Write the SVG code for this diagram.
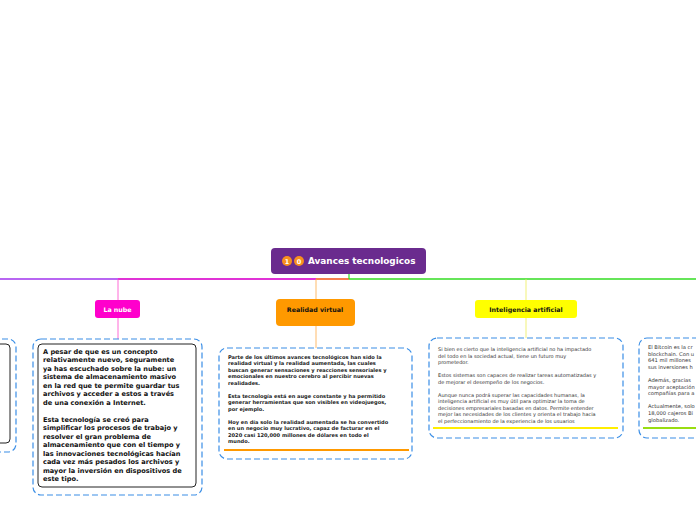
<svg xmlns="http://www.w3.org/2000/svg" width="696" height="520" viewBox="0 0 696 520">
<style>
.dash{fill:#fff;stroke:#3a8ee6;stroke-width:1.2;stroke-dasharray:6 3}
.inner{fill:#fff;stroke:#222;stroke-width:1}
.t{font-family:"DejaVu Sans",Verdana,sans-serif}
.b{font-weight:bold}
.nube{font-size:6.6px;fill:#111}
.rv{font-size:5.1px;fill:#222}
.ia{font-size:5px;fill:#333}
.bt{font-size:5.2px;fill:#333}
.lbl{font-size:6.3px;font-weight:bold}
</style>
<rect width="696" height="520" fill="#fff"/>
<g id="connectors" fill="none">
  <line x1="0" y1="279" x2="349" y2="279" stroke="#a033ee" stroke-width="1.6"/>
  <line x1="118" y1="279" x2="349" y2="279" stroke="#ee22cc" stroke-width="1.6"/>
  <line x1="316" y1="279" x2="349" y2="279" stroke="#ff9a22" stroke-width="1.6"/>
  <line x1="349" y1="279" x2="696" y2="279" stroke="#33dd22" stroke-width="1.6"/>
  <line x1="349" y1="274" x2="349" y2="279" stroke="#33dd22" stroke-width="1.2"/>
  <line x1="118" y1="279" x2="118" y2="300" stroke="#ff44cc" stroke-width="0.8"/>
  <line x1="118" y1="318" x2="118" y2="339" stroke="#ff44cc" stroke-width="0.8"/>
  <line x1="316" y1="279" x2="316" y2="299" stroke="#ffaa44" stroke-width="0.8"/>
  <line x1="316" y1="326" x2="316" y2="348" stroke="#ffaa44" stroke-width="0.8"/>
  <line x1="526" y1="279" x2="526" y2="300" stroke="#eeee55" stroke-width="0.8"/>
  <line x1="526" y1="318" x2="526" y2="338" stroke="#eeee55" stroke-width="0.8"/>
</g>
<g id="root">
  <rect x="271" y="248" width="155" height="26" rx="4" fill="#6a2b8e"/>
  <circle cx="287" cy="261" r="5" fill="#f7901e"/>
  <circle cx="299" cy="261" r="5" fill="#f7901e"/>
  <text class="t b" x="287" y="263.5" font-size="6.5" fill="#fff" text-anchor="middle">1</text>
  <text class="t b" x="299" y="263.5" font-size="6.5" fill="#fff" text-anchor="middle">0</text>
  <text class="t b" x="308" y="264.2" font-size="8.9" fill="#fff">Avances tecnologicos</text>
</g>
<g id="left-partial">
  <rect class="dash" x="-60" y="339" width="76" height="113" rx="8"/>
  <rect class="inner" x="-60" y="344" width="70" height="99" rx="4"/>
</g>
<g id="la-nube">
  <rect x="95" y="300" width="45" height="18" rx="3" fill="#ff00cc"/>
  <text class="t lbl" x="117.5" y="311.5" fill="#fff" text-anchor="middle">La nube</text>
</g>
<g id="la-nube-detalle">
  <rect class="dash" x="33" y="339" width="169" height="156" rx="8"/>
  <rect class="inner" x="38" y="344" width="158" height="143" rx="4"/>
  <text class="t b nube" x="43" y="354">
    <tspan x="43">A pesar de que es un concepto</tspan>
    <tspan x="43" dy="8.47">relativamente nuevo, seguramente</tspan>
    <tspan x="43" dy="8.47">ya has escuchado sobre la nube: un</tspan>
    <tspan x="43" dy="8.47">sistema de almacenamiento masivo</tspan>
    <tspan x="43" dy="8.47">en la red que te permite guardar tus</tspan>
    <tspan x="43" dy="8.47">archivos y acceder a estos a través</tspan>
    <tspan x="43" dy="8.47">de una conexión a Internet.</tspan>
    <tspan x="43" dy="16.94">Esta tecnología se creó para</tspan>
    <tspan x="43" dy="8.47">simplificar los procesos de trabajo y</tspan>
    <tspan x="43" dy="8.47">resolver el gran problema de</tspan>
    <tspan x="43" dy="8.47">almacenamiento que con el tiempo y</tspan>
    <tspan x="43" dy="8.47">las innovaciones tecnológicas hacían</tspan>
    <tspan x="43" dy="8.47">cada vez más pesados los archivos y</tspan>
    <tspan x="43" dy="8.47">mayor la inversión en dispositivos de</tspan>
    <tspan x="43" dy="8.47">este tipo.</tspan>
  </text>
</g>
<g id="realidad-virtual">
  <rect x="276" y="299" width="79" height="27" rx="4" fill="#ff9900"/>
  <text class="t lbl" x="315" y="311.5" fill="#111" text-anchor="middle">Realidad virtual</text>
</g>
<g id="realidad-virtual-detalle">
  <rect class="dash" x="219" y="348" width="193" height="111" rx="8"/>
  <text class="t b rv" x="228" y="359">
    <tspan x="228">Parte de los últimos avances tecnológicos han sido la</tspan>
    <tspan x="228" dy="6.46">realidad virtual y la realidad aumentada, las cuales</tspan>
    <tspan x="228" dy="6.46">buscan generar sensaciones y reacciones sensoriales y</tspan>
    <tspan x="228" dy="6.46">emocionales en nuestro cerebro al percibir nuevas</tspan>
    <tspan x="228" dy="6.46">realidades.</tspan>
    <tspan x="228" dy="12.92">Esta tecnología está en auge constante y ha permitido</tspan>
    <tspan x="228" dy="6.46">generar herramientas que son visibles en videojuegos,</tspan>
    <tspan x="228" dy="6.46">por ejemplo.</tspan>
    <tspan x="228" dy="12.92">Hoy en día solo la realidad aumentada se ha convertido</tspan>
    <tspan x="228" dy="6.46">en un negocio muy lucrativo, capaz de facturar en el</tspan>
    <tspan x="228" dy="6.46">2020 casi 120,000 millones de dólares en todo el</tspan>
    <tspan x="228" dy="6.46">mundo.</tspan>
  </text>
  <line x1="224" y1="450" x2="409" y2="450" stroke="#ff9900" stroke-width="2.2"/>
</g>
<g id="inteligencia-artificial">
  <rect x="475" y="300" width="102" height="18" rx="3" fill="#ffff00"/>
  <text class="t lbl" x="526" y="311.5" fill="#111" text-anchor="middle">Inteligencia artificial</text>
</g>
<g id="inteligencia-artificial-detalle">
  <rect class="dash" x="429" y="338" width="194" height="100" rx="8"/>
  <text class="t ia" x="438" y="351">
    <tspan x="438">Si bien es cierto que la inteligencia artificial no ha impactado</tspan>
    <tspan x="438" dy="6.5">del todo en la sociedad actual, tiene un futuro muy</tspan>
    <tspan x="438" dy="6.5">prometedor.</tspan>
    <tspan x="438" dy="13">Estos sistemas son capaces de realizar tareas automatizadas y</tspan>
    <tspan x="438" dy="6.5">de mejorar el desempeño de los negocios.</tspan>
    <tspan x="438" dy="13">Aunque nunca podrá superar las capacidades humanas, la</tspan>
    <tspan x="438" dy="6.5">inteligencia artificial es muy útil para optimizar la toma de</tspan>
    <tspan x="438" dy="6.5">decisiones empresariales basadas en datos. Permite entender</tspan>
    <tspan x="438" dy="6.5">mejor las necesidades de los clientes y orienta el trabajo hacia</tspan>
    <tspan x="438" dy="6.5">el perfeccionamiento de la experiencia de los usuarios</tspan>
  </text>
  <line x1="433" y1="428" x2="618" y2="428" stroke="#ffee00" stroke-width="2.2"/>
</g>
<g id="bitcoin-detalle">
  <rect class="dash" x="639" y="338" width="120" height="100" rx="8"/>
  <text class="t bt" x="648" y="349">
    <tspan x="648">El Bitcoin es la cr</tspan>
    <tspan x="648" dy="6.6">blockchain. Con u</tspan>
    <tspan x="648" dy="6.6">641 mil millones</tspan>
    <tspan x="648" dy="6.6">sus inversiones h</tspan>
    <tspan x="648" dy="13.2">Además, gracias</tspan>
    <tspan x="648" dy="6.6">mayor aceptación</tspan>
    <tspan x="648" dy="6.6">compañías para a</tspan>
    <tspan x="648" dy="13.2">Actualmente, solo</tspan>
    <tspan x="648" dy="6.6">18,000 cajeros Bi</tspan>
    <tspan x="648" dy="6.6">globalizado.</tspan>
  </text>
  <line x1="643" y1="428" x2="720" y2="428" stroke="#99dd11" stroke-width="2.2"/>
</g>
</svg>
